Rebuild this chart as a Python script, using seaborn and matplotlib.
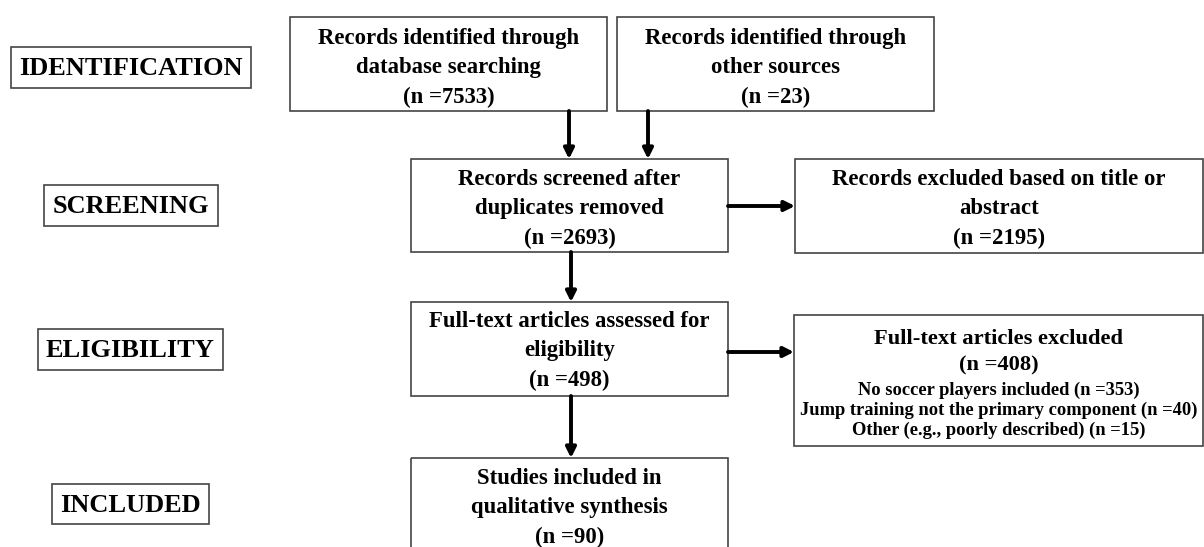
import matplotlib
matplotlib.use("Agg")
import matplotlib.pyplot as plt
import seaborn as sns
from matplotlib.patches import Rectangle

sns.set_theme(style="white")
plt.rcParams['font.family'] = ['Liberation Serif', 'DejaVu Serif']
plt.rcParams['font.weight'] = 'bold'
plt.rcParams['text.color'] = 'black'

# === PRISMA phases ===
phases = ["IDENTIFICATION", "SCREENING", "ELIGIBILITY", "INCLUDED"]

# === flow boxes (text) ===
box_labels = [
    "Records identified through\ndatabase searching",
    "Records identified through\nother sources",
    "Records screened after\nduplicates removed",
    "Records excluded based on title or\nabstract",
    "Full-text articles assessed for\neligibility",
    "Studies included in\nqualitative synthesis",
]
box_counts = [7533, 23, 2693, 2195, 498, 90]

excluded_title = "Full-text articles excluded"
excluded_total = 408
excluded_reasons = [
    "No soccer players included",
    "Jump training not the primary component",
    "Other (e.g., poorly described)",
]
excluded_counts = [353, 40, 15]

# === layout (pixel coords, y down) ===
phase_boxes = [(11, 47, 251, 88), (44, 185, 218, 226), (38, 329, 223, 370), (52, 484, 209, 524)]
flow_boxes = [(290, 17, 607, 111), (617, 17, 934, 111), (411, 159, 728, 252),
              (795, 159, 1203, 253), (411, 302, 728, 396), (411, 458, 728, 570)]
text_y = [68, 68, 209, 209, 351, 508]
excl_box = (794, 315, 1203, 446)

# arrows: (x0, y0, x1, y1)
arrows = [(569, 111, 569, 159), (648, 111, 648, 159), (728, 206, 795, 206),
          (571, 252, 571, 302), (728, 352, 794, 352), (571, 396, 571, 458)]

fig = plt.figure(figsize=(12.04, 5.47), dpi=100)
ax = fig.add_axes([0, 0, 1, 1])
ax.set_xlim(0, 1204)
ax.set_ylim(547, 0)
ax.axis("off")

edge = "#444444"


def draw_box(b):
    x0, y0, x1, y1 = b
    ax.add_patch(Rectangle((x0, y0), x1 - x0, y1 - y0, fill=False, ec=edge, lw=1.2))


for name, b in zip(phases, phase_boxes):
    draw_box(b)
    ax.text((b[0] + b[2]) / 2, (b[1] + b[3]) / 2 + 1, name, ha="center", va="center",
            fontsize=19, fontweight="bold")

for lab, n, b, ty in zip(box_labels, box_counts, flow_boxes, text_y):
    draw_box(b)
    ax.text((b[0] + b[2]) / 2, ty, f"{lab}\n(n ={n})", ha="center", va="center",
            fontsize=16.4, fontweight="bold", linespacing=1.52)

draw_box(excl_box)
cx = (excl_box[0] + excl_box[2]) / 2
ax.text(cx, 352, f"{excluded_title}\n(n ={excluded_total})", ha="center", va="center",
        fontsize=16.2, fontweight="bold", linespacing=1.45)
reasons = "\n".join(f"{r} (n ={c})" for r, c in zip(excluded_reasons, excluded_counts))
ax.text(cx, 410, reasons, ha="center", va="center", fontsize=13.3, fontweight="bold",
        linespacing=1.2)

for x0, y0, x1, y1 in arrows:
    ax.annotate("", xy=(x1, y1), xytext=(x0, y0),
                arrowprops=dict(arrowstyle="-|>", lw=2.8, color="black",
                                mutation_scale=15, shrinkA=0, shrinkB=0))

fig.savefig("out.png", dpi=100, facecolor="white")
